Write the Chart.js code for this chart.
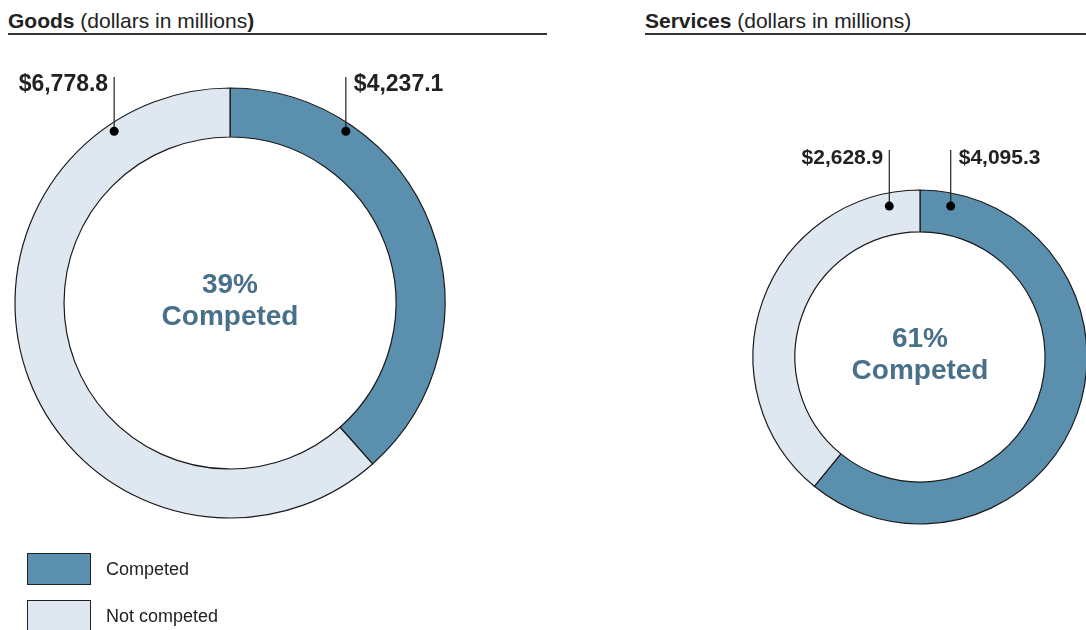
<!DOCTYPE html>
<html lang="en">
<head>
<meta charset="UTF-8">
<title>Goods and Services - Competed</title>
<script src="https://cdn.jsdelivr.net/npm/chart.js"></script>
<style>
    body {
        margin: 0;
        width: 1086px;
        height: 630px;
        overflow: hidden;
        background: #fff;
        position: relative;
        font-family: "Liberation Sans", Arial, sans-serif;
        color: #222;
    }
    .titulo {
        position: absolute;
        top: 10px;
        font-size: 21px;
        line-height: 21px;
        color: #222;
        white-space: nowrap;
    }
    .linha {
        position: absolute;
        top: 33px;
        height: 2px;
        background: #333;
    }
    canvas { position: absolute; }
    .legenda-item {
        position: absolute;
        left: 27px;
        height: 32px;
        font-size: 18px;
        line-height: 32px;
        white-space: nowrap;
    }
    .legenda-item span {
        display: inline-block;
        width: 62px;
        height: 30px;
        border: 1px solid #222;
        vertical-align: top;
        margin-right: 15px;
    }
</style>
</head>
<body>

<div class="titulo" style="left:8px"><b>Goods</b> (dollars in millions<b>)</b></div>
<div class="linha" style="left:8px; width:539px"></div>
<div class="titulo" style="left:645px"><b>Services</b> (dollars in millions)</div>
<div class="linha" style="left:645px; width:441px"></div>

<canvas id="bens" width="460" height="526" style="left:0; top:40px"></canvas>
<canvas id="servicos" width="440" height="514" style="left:700px; top:100px"></canvas>

<div id="legenda"></div>

<script>
    const categorias = ['Competed', 'Not competed'];
    const bens = [4237.1, 6778.8];
    const servicos = [4095.3, 2628.9];
    const percentuais = ['39%', '61%'];
    const cores = ['#5b8fae', '#dfe8f0'];

    // rótulos de valor com linha guia e ponto, e texto central
    const rotulosPlugin = {
        id: 'rotulos',
        afterDraw(chart, args, opts) {
            const ctx = chart.ctx;
            const meta = chart.getDatasetMeta(0);
            const valores = chart.data.datasets[0].data;
            ctx.save();
            meta.data.forEach((arco, i) => {
                const p = arco.getProps(['x', 'y', 'startAngle', 'endAngle', 'innerRadius', 'outerRadius'], true);
                const desvio = opts.angulo * Math.PI / 180;
                const ang = i === 0 ? p.startAngle + desvio : p.endAngle - desvio;
                const r = p.innerRadius + (p.outerRadius - p.innerRadius) * opts.posicao;
                const px = p.x + r * Math.cos(ang);
                const py = p.y + r * Math.sin(ang);
                const topo = p.y - p.outerRadius - opts.altura;

                ctx.strokeStyle = '#222';
                ctx.lineWidth = 1.2;
                ctx.beginPath();
                ctx.moveTo(px, topo);
                ctx.lineTo(px, py);
                ctx.stroke();

                ctx.fillStyle = '#000';
                ctx.beginPath();
                ctx.arc(px, py, 4.5, 0, Math.PI * 2);
                ctx.fill();

                const texto = '$' + valores[i].toLocaleString('en-US', {minimumFractionDigits: 1});
                ctx.font = 'bold ' + opts.fonte + 'px "Liberation Sans", Arial, sans-serif';
                ctx.fillStyle = '#222';
                ctx.textBaseline = 'middle';
                if (i === 0) {
                    ctx.textAlign = 'left';
                    ctx.fillText(texto, px + 8, topo + 8);
                } else {
                    ctx.textAlign = 'right';
                    ctx.fillText(texto, px - 6, topo + 8);
                }
            });

            const a = meta.data[0];
            ctx.font = 'bold 28px "Liberation Sans", Arial, sans-serif';
            ctx.fillStyle = '#48708b';
            ctx.textAlign = 'center';
            ctx.textBaseline = 'middle';
            ctx.fillText(opts.percentual, a.x, a.y - 18);
            ctx.fillText('Competed', a.x, a.y + 14);
            ctx.restore();
        }
    };

    function criarRosca(id, valores, raio, corte, rotulo) {
        return new Chart(document.getElementById(id), {
            type: 'doughnut',
            data: {
                labels: categorias,
                datasets: [{
                    data: valores,
                    backgroundColor: cores,
                    borderColor: '#1a1a1a',
                    borderWidth: 1.2
                }]
            },
            options: {
                responsive: false,
                animation: false,
                radius: raio,
                cutout: corte,
                plugins: {
                    legend: { display: false },
                    tooltip: { enabled: false },
                    rotulos: rotulo
                }
            },
            plugins: [rotulosPlugin]
        });
    }

    criarRosca('bens', bens, 215, '77.2%', {angulo: 34, posicao: 0.84, altura: 11, fonte: 23, percentual: percentuais[0]});
    criarRosca('servicos', servicos, 167, '74.9%', {angulo: 11.5, posicao: 0.69, altura: 40, fonte: 21, percentual: percentuais[1]});

    // legenda
    const legenda = document.getElementById('legenda');
    categorias.forEach((nome, i) => {
        const item = document.createElement('div');
        item.className = 'legenda-item';
        item.style.top = (553 + i * 47) + 'px';
        item.innerHTML = '<span style="background:' + cores[i] + '"></span>' + nome;
        legenda.appendChild(item);
    });
</script>

</body>
</html>
